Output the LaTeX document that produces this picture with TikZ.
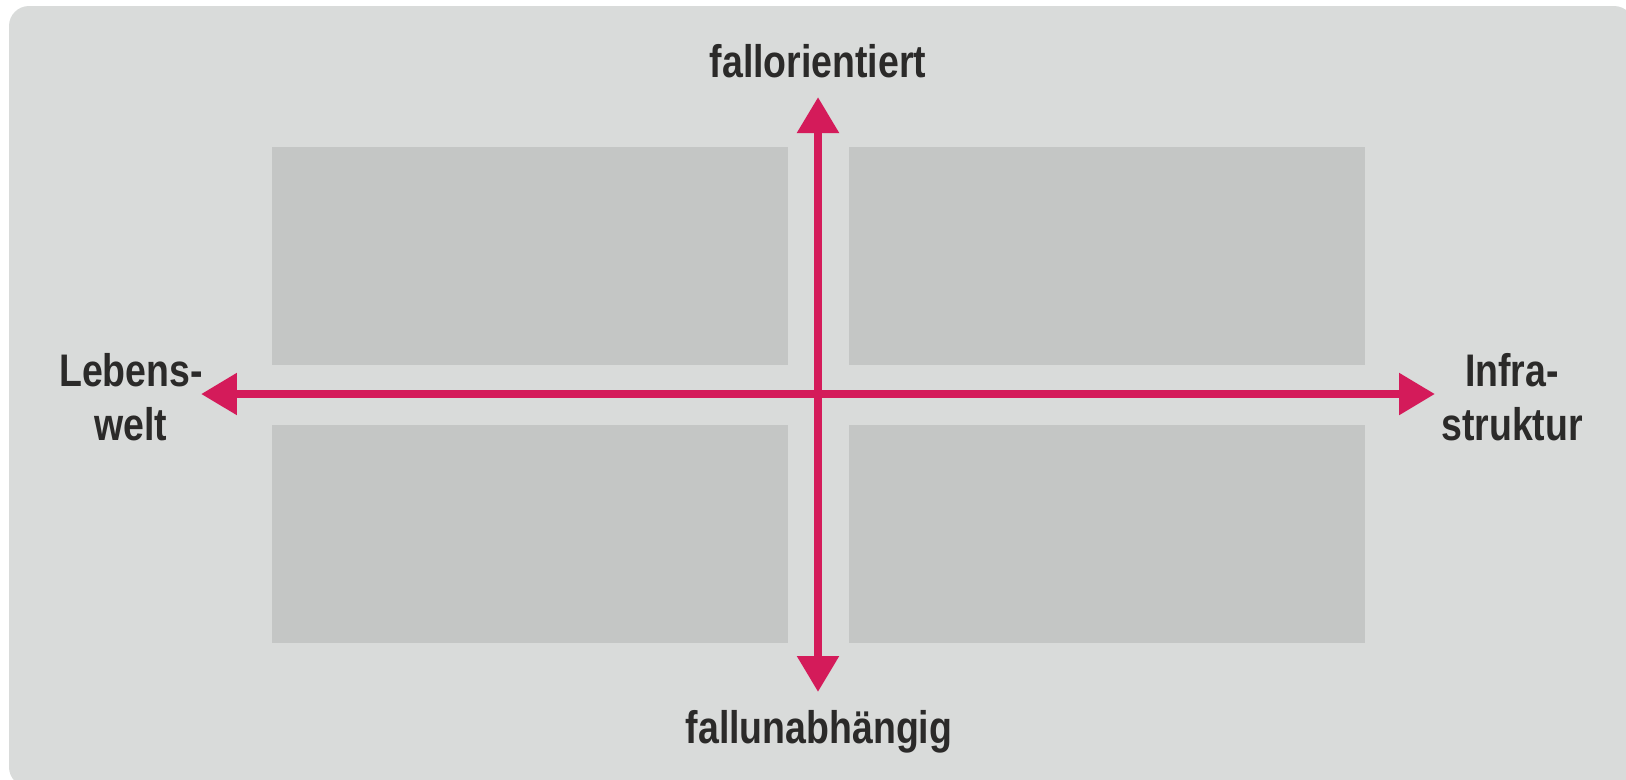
\documentclass[tikz,border=0pt]{standalone}
\usepackage{fontspec}
\setmainfont{Liberation Sans}[FakeStretch=0.82]
\usepackage{tikz}
\tikzset{>=latex}
\usetikzlibrary{
    positioning, % relative placement
    arrows.meta % modern arrow tips
}
\definecolor{bgGrey}{HTML}{D9DBDA}
\definecolor{boxGrey}{HTML}{C4C6C5}
\definecolor{axisRed}{HTML}{D41B5A}
\definecolor{textDark}{HTML}{2B2A29}
\tikzset{
    quadbox/.style={fill=boxGrey},
    axis/.style={draw=axisRed, line width=0.17cm,
        {Triangle[length=7.2mm, width=8mm]}-{Triangle[length=7.2mm, width=8mm]}},
    axislabel/.style={text=textDark, font=\fontsize{26}{30.2}\selectfont\bfseries,
        align=center, inner sep=0pt, anchor=base}
}

\begin{document}
\begin{tikzpicture}[x=0.02cm, y=-0.02cm]
      % simple knobs (pixel units, y downwards)
      \def\Lx{272}   % left edge of left boxes
      \def\Mx{788}   % right edge of left boxes
      \def\Nx{849}   % left edge of right boxes
      \def\Rx{1365}  % right edge of right boxes

      % ===================== BACKGROUND =====================
      \useasboundingbox (0,0) rectangle (1626,779);
      \fill[bgGrey, rounded corners=0.4cm] (9,6) rectangle (1634,787);

      % ===================== QUADRANTS =====================
      \fill[quadbox] (\Lx,147) rectangle (\Mx,365);
      \fill[quadbox] (\Nx,147) rectangle (\Rx,365);
      \fill[quadbox] (\Lx,425) rectangle (\Mx,643);
      \fill[quadbox] (\Nx,425) rectangle (\Rx,643);

      % ===================== AXES =====================
      \coordinate (up)    at (818,97);
      \coordinate (down)  at (818,692);
      \coordinate (left)  at (201,394);
      \coordinate (right) at (1435,394);
      \draw[axis] (down) -- (up);
      \draw[axis] (left) -- (right);

      % labels at the four ends (base = last line)
      \node[axislabel] (fallori)  at (818,77)  {fallorientiert};
      \node[axislabel] (fallunab) at (819,743) {fallunabhängig};
      \node[axislabel] (lebenswelt) at (131,440) {Lebens-\\welt};
      \node[axislabel] (infra)    at (1512,440) {Infra-\\struktur};
\end{tikzpicture}
\end{document}
